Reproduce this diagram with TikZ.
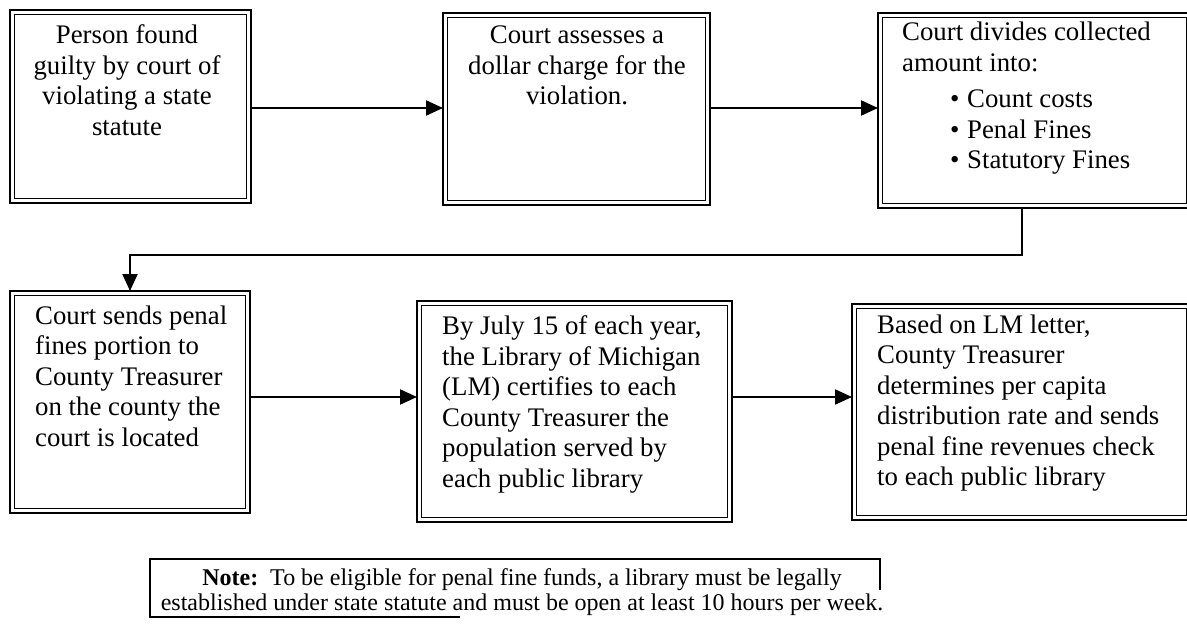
\documentclass[tikz,border=0pt]{standalone}
\usepackage{fontspec}
\setmainfont{Liberation Serif}
\usetikzlibrary{arrows.meta}
\newcommand\innerframe[1]{\draw[line width=1.2pt] ([shift={(4.5pt,-4.5pt)}]#1.north west) rectangle ([shift={(-4.5pt,4.5pt)}]#1.south east);}
\begin{document}
\begin{tikzpicture}[x=1pt,y=-1pt,
  box/.style={draw, line width=2.6pt, inner sep=0pt, outer sep=0pt, anchor=north west},
  txt/.style={inner sep=0pt, font=\fontsize{26.8}{30.5}\selectfont, execute at begin node=\strut},
  notetxt/.style={inner sep=0pt, font=\fontsize{24}{25.5}\selectfont, execute at begin node=\strut},
  arr/.style={line width=2.1pt, -{Triangle[length=17pt,width=15pt]}},
  noteframe/.style={line width=1.3pt}]
\useasboundingbox (0,0) rectangle (1187,629);

% boxes
\node[box, minimum width=241pt, minimum height=193pt] (b1) at (10,10) {};
\node[box, minimum width=267pt, minimum height=192pt] (b2) at (443,13) {};
\node[box, minimum width=313pt, minimum height=195pt] (b3) at (878,13) {};
\node[box, minimum width=240pt, minimum height=222pt] (b4) at (10,291) {};
\node[box, minimum width=315pt, minimum height=221pt] (b5) at (417,301) {};
\node[box, minimum width=339pt, minimum height=216pt] (b6) at (852,304) {};
\innerframe{b1}\innerframe{b2}\innerframe{b3}\innerframe{b4}\innerframe{b5}\innerframe{b6}

% texts
\node[txt, align=center, anchor=north] (t1) at (127,24.6) {Person found\\guilty by court of\\violating a state\\statute};
\node[txt, align=center, anchor=north] (t2) at (577,25.6) {Court assesses a\\dollar charge for the\\violation.};
\node[txt, align=left, anchor=north west] (t3) at (902,22) {Court divides collected\\amount into:\\[6pt]
  \hspace*{48pt}\makebox[17pt][l]{\textbullet}Count costs\\
  \hspace*{48pt}\makebox[17pt][l]{\textbullet}Penal Fines\\
  \hspace*{48pt}\makebox[17pt][l]{\textbullet}Statutory Fines};
\node[txt, align=left, anchor=north west] (t4) at (35,305.6) {Court sends penal\\fines portion to\\County Treasurer\\on the county the\\court is located};
\node[txt, align=left, anchor=north west] (t5) at (442,315.6) {By July 15 of each year,\\the Library of Michigan\\(LM) certifies to each\\County Treasurer the\\population served by\\each public library};
\node[txt, align=left, anchor=north west] (t6) at (877,314.6) {Based on LM letter,\\County Treasurer\\determines per capita\\distribution rate and sends\\penal fine revenues check\\to each public library};

% note
\coordinate (n1) at (460,617);
\coordinate (n2) at (150,617);
\coordinate (n3) at (150,559);
\coordinate (n4) at (880,559);
\coordinate (n5) at (880,590);
\draw[noteframe] (n1) -- (n2) -- (n3) -- (n4) -- (n5);
\node[notetxt, align=center, anchor=north] (note) at (522,568) {\textbf{Note:}\ \ To be eligible for penal fine funds, a library must be legally\\established under state statute and must be open at least 10 hours per week.};

% connectors
\coordinate (r1) at (0,108);
\coordinate (r2) at (0,397);
\draw[arr] (b1.east |- r1) -- (b2.west |- r1);
\draw[arr] (b2.east |- r1) -- (b3.west |- r1);
\draw[arr] ([xshift=144pt]b3.south west) -- ++(0,47) -| (b4.north);
\draw[arr] (b4.east |- r2) -- (b5.west |- r2);
\draw[arr] (b5.east |- r2) -- (b6.west |- r2);
\end{tikzpicture}
\end{document}
